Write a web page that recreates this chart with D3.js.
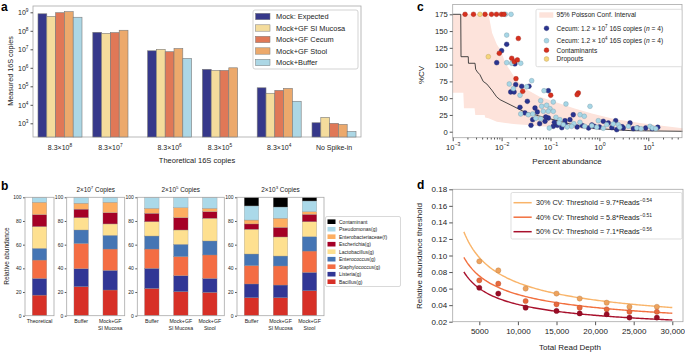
<!doctype html>
<html lang="en">
<head>
<meta charset="utf-8">
<title>16S spike-in figure</title>
<style>
  body { margin: 0; background: #fff; }
  svg { display: block; font-family: "Liberation Sans", Arial, sans-serif; }
  .frame { fill: none; stroke: #a8a8a8; stroke-width: 0.8; }
  .tick line { stroke: #555; }
  .tick text { fill: #222; }
  .domain { display: none; }
</style>
</head>
<body>
<div id="fig"></div>
<script src="https://cdn.jsdelivr.net/npm/d3@7"></script>
<script>

//------------------ panel a data (measured 16S copies)
var aSeries = ["Mock: Expected", "Mock+GF SI Mucosa", "Mock+GF Cecum", "Mock+GF Stool", "Mock+Buffer"];
var aTickLabels = ["8.3×10^{8}", "8.3×10^{7}", "8.3×10^{6}", "8.3×10^{5}", "8.3×10^{4}", "No Spike-in"];
var aExpected = [8.3e8, 8.3e7, 8.3e6, 8.3e5, 8.3e4, 1.07e3];
var aSIMucosa = [6.0e8, 7.3e7, 1.0e7, 7.2e5, 4.2e4, 2.1e3];
var aCecum    = [9.5e8, 8.0e7, 7.4e6, 7.2e5, 6.0e4, 1.0e3];
var aStool    = [1.08e9, 1.07e8, 1.1e7, 1.0e6, 7.7e4, 8.7e2];
var aBuffer   = [5.4e8, null, 3.2e6, null, 1.55e4, 3.6e2];
var aColors = ["#36388a", "#f4dc9c", "#e07857", "#eca96c", "#acd7e5"];

//------------------ panel b data (relative abundance, %)
var bSamples = ["Theoretical", "Buffer", "Mock+GF\nSI Mucosa", "Buffer", "Mock+GF\nSI Mucosa", "Mock+GF\nStool", "Buffer", "Mock+GF\nSI Mucosa", "Mock+GF\nStool"];
var bSubplot = [0, 1, 1, 2, 2, 2, 3, 3, 3];
var bTitles = ["", "2×10^{7} Copies", "2×10^{5} Copies", "2×10^{3} Copies"];
var bTaxa = ["Bacillus(g)", "Listeria(g)", "Staphylococcus(g)", "Enterococcus(g)", "Lactobacillus(g)", "Escherichia(g)", "Enterobacteriaceae(f)", "Pseudomonas(g)", "Contaminant"];
var bBacillus      = [17.4, 24.5, 21.7, 23.0, 20.3, 19.7, 15.2, 15.2, 21.1];
var bListeria      = [14.1, 15.2, 16.6, 17.0, 13.5, 11.8, 11.6, 10.7, 15.5];
var bStaph         = [15.5, 21.3, 18.0, 16.3, 16.1, 19.8, 15.5, 16.1, 18.0];
var bEnterococcus  = [9.9, 11.4, 11.6, 11.0, 10.4, 11.8, 9.8, 8.4, 12.2];
var bLacto         = [18.4, 10.4, 9.6, 12.1, 12.1, 19.2, 20.9, 16.1, 12.6];
var bEscherichia   = [10.1, 7.2, 9.5, 7.1, 10.4, 5.6, 4.5, 8.1, 6.2];
var bEnterobact    = [10.4, 5.0, 8.8, 4.2, 8.5, 2.8, 3.3, 7.7, 2.3];
var bPseudomonas   = [4.2, 5.0, 4.2, 9.3, 8.7, 9.3, 11.9, 9.5, 9.0];
var bContaminant   = [0, 0, 0, 0, 0, 0, 7.3, 8.2, 3.1];
var bColors = ["#d73027", "#313695", "#f46d43", "#4575b4", "#fee090", "#a50026", "#fdae61", "#abd9e9", "#000000"];

//------------------ panel c data (%CV vs percent abundance)
var cHighX = [0.0127, 0.010, 0.00794, 0.0187, 0.0194, 0.0258, 0.0363, 0.01535, 0.018, 0.0902, 0.0336, 0.0238, 0.0482, 0.0537, 0.0432, 0.0902, 0.198, 0.0773, 0.0399, 0.114, 0.138, 0.292, 0.25, 1.2, 1.52, 0.787, 2.15, 4.23, 3.08, 4.93, 8.85, 15.6, 2.26, 0.06, 0.17, 0.35, 0.45, 0.6, 1.0, 1.8, 2.9, 6.0, 12.0, 0.08, 0.12, 0.03, 0.2, 0.7];
var cHighY = [130.3, 120.8, 102.9, 101, 70.1, 67.7, 67.7, 59.2, 59.2, 61.1, 45.3, 36.4, 35.3, 29.4, 17.9, 20.4, 16.4, 15.5, 9.5, 8.0, 9.5, 25.3, 17.9, 15.5, 13, 8, 16.4, 13, 5.5, 4.5, 5.5, 6.6, 3, 12, 6, 7, 9, 5.5, 7, 6, 7.5, 5.5, 4.5, 22, 14, 28, 11, 10];
var cLowX = [0.012, 0.0156, 0.0127, 0.0127, 0.0161, 0.0246, 0.0412, 0.01435, 0.0174, 0.0238, 0.0736, 0.063, 0.114, 0.207, 0.066, 0.0835, 0.0977, 0.0246, 0.0352, 0.0432, 0.0713, 0.0902, 0.114, 0.063, 0.129, 0.156, 0.0944, 0.183, 0.642, 0.401, 0.491, 0.95, 1.41, 0.88, 1.92, 2.44, 3.9, 5.8, 7.1, 10.8, 12.1, 14.2, 2.6, 0.0326, 0.3, 0.5, 0.27, 0.4, 1.2, 0.7, 0.05, 0.15, 0.22];
var cLowY = [175, 175, 144, 102.9, 102, 102, 76, 71.1, 64.1, 54.3, 61.1, 46.2, 44.3, 41.3, 37.9, 39.4, 34.3, 26.4, 25.3, 26.4, 30.4, 30.4, 30.4, 19.4, 21.5, 17.9, 5.5, 10.4, 37.8, 25.3, 23, 16.4, 10.4, 6.6, 11.5, 10.4, 8, 5.5, 4.5, 8, 5.5, 4.5, 6.6, 67, 12, 8, 8, 14, 5, 9, 20, 13, 7];
var cContX = [0.00179, 0.00266, 0.00458, 0.00621, 0.00786, 0.00995, 0.0112, 0.022, 0.00897, 0.0161, 0.0182, 0.021, 0.0197, 0.027, 0.101, 0.371, 0.35];
var cContY = [175, 175, 175, 175, 175, 175, 175, 139, 116.9, 109.4, 104.4, 107, 79, 60.2, 54.3, 57.7, 55.2];
var cDropX = [0.00361, 0.00535];
var cDropY = [175, 111.8];
var cBandX  = [0.001, 0.00165, 0.0017, 0.0028, 0.0029, 0.0045, 0.0046, 0.0054, 0.0064, 0.008, 0.0095, 0.012, 0.0157, 0.02, 0.034, 0.06, 0.155, 0.3, 0.7, 2, 7.3, 50];
var cBandLo = [58, 58, 35, 35, 25, 25, 21, 20, 18, 15, 14, 13, 12, 11, 10, 8, 6.5, 5, 3.5, 2.2, 1.2, 0.5];
var cBandHi = [175, 175, 175, 175, 175, 175, 175, 175, 147, 130, 122, 102, 89, 77, 62, 52, 42, 35, 27, 19, 12.5, 5];
var cLineX = [0.001, 0.00146, 0.00148, 0.00208, 0.0021, 0.00286, 0.00295, 0.0032, 0.0036, 0.0042, 0.005, 0.0063, 0.0079, 0.0093, 0.0149, 0.0278, 0.061, 0.156, 0.25, 0.508, 0.95, 4.57, 50];
var cLineY = [175, 175, 111.8, 111.8, 102, 102, 93, 89, 85, 75, 71, 62, 52, 47.7, 40.3, 30.4, 23, 15.5, 11.5, 6.6, 4.5, 1.5, 0.6];

//------------------ panel d data (threshold vs read depth)
var dDepth = [5000, 7460, 11000, 15000, 18000, 21500, 24450, 28000];
var d30 = [0.093, 0.082, 0.060, 0.054, 0.048, 0.043, 0.038, 0.038];
var d40 = [0.070, 0.066, 0.045, 0.041, 0.037, 0.035, 0.032, 0.032];
var d50 = [0.061, 0.054, 0.037, 0.033, 0.030, 0.029, 0.025, 0.025];
var dCoef = [9.7, 5.8, 7.1];
var dExpo = [-0.54, -0.51, -0.56];
var dLabels = ["30% CV: Threshold = 9.7*Reads^{−0.54}", "40% CV: Threshold = 5.8*Reads^{−0.51}", "50% CV: Threshold = 7.1*Reads^{−0.56}"];
var dLineColors = ["#f9b469", "#f2703f", "#a8102c"];
var dDotColors = ["#eea35e", "#e8693d", "#9a0c26"];
var dXTicks = [5000, 10000, 15000, 20000, 25000, 30000];
var dXTickLabels = ["5000", "10,000", "15,000", "20,000", "25,000", "30,000"];

//------------------ helpers
var W = 685, H = 353;
var svg = d3.select("#fig").append("svg").attr("width", W).attr("height", H);

// text with ^{superscript} and ~{italic}
function rich(sel, str, fs) {
  sel.text(null);
  var toks = str.split(/(\^\{[^}]*\}|~\{[^}]*\})/).filter(function(t) { return t.length; });
  var raised = false;
  toks.forEach(function(t) {
    if (t.indexOf("^{") === 0) {
      sel.append("tspan").attr("dy", -fs * 0.42).attr("font-size", fs * 0.68).text(t.slice(2, -1));
      raised = true;
    } else {
      var ts = sel.append("tspan");
      if (raised) { ts.attr("dy", fs * 0.42); raised = false; }
      if (t.indexOf("~{") === 0) ts.attr("font-style", "italic").text(t.slice(2, -1));
      else ts.text(t);
    }
  });
}

function panelLabel(ch, x, y) {
  svg.append("text").attr("x", x).attr("y", y).attr("font-size", 12).attr("font-weight", "bold")
    .attr("font-family", "Arial, 'Liberation Sans', sans-serif").attr("fill", "#000").text(ch);
}

//------------------ panel a
var aL = 33, aR = 361, aT = 6, aB = 137;
var ya = d3.scaleLog().domain([1e3, 1e9]).range([123.3, 12.3]);
var xg = d3.scaleLinear().domain([0, 1]).range([38, 92.8]);
var xs = d3.scaleBand().domain(d3.range(aSeries.length)).range([0, 44]);
var aVals = [aExpected, aSIMucosa, aCecum, aStool, aBuffer];

var ga = svg.append("g");
ga.append("rect").attr("class", "frame").attr("x", aL).attr("y", aT).attr("width", aR - aL).attr("height", aB - aT);

aTickLabels.forEach(function(lab, i) {
  var present = aVals.map(function(s) { return s[i]; });
  var nPresent = 0;
  present.forEach(function(v, j) {
    if (v == null) return;
    nPresent++;
    ga.append("rect")
      .attr("x", xg(i) + xs(j)).attr("y", ya(v))
      .attr("width", xs.bandwidth()).attr("height", aB - ya(v))
      .attr("fill", aColors[j]).attr("stroke", "#7a7a7a").attr("stroke-width", 0.6);
  });
  var t = ga.append("text").attr("x", xg(i) + nPresent * xs.bandwidth() / 2).attr("y", 150)
    .attr("text-anchor", "middle").attr("font-size", 7).attr("fill", "#222");
  rich(t, lab, 7);
});

ga.append("g").attr("transform", "translate(" + aL + ",0)")
  .call(d3.axisLeft(ya).tickValues([1e3, 1e4, 1e5, 1e6, 1e7, 1e8, 1e9]).tickSize(2.5).tickPadding(2))
  .call(function(g) {
    g.selectAll(".tick text").attr("font-size", 7).each(function(d) {
      rich(d3.select(this), "10^{" + Math.round(Math.log10(d)) + "}", 7);
    });
  });
ga.append("text").attr("transform", "translate(13,71) rotate(-90)").attr("text-anchor", "middle")
  .attr("font-size", 7.2).attr("fill", "#222").text("Measured 16S copies");
ga.append("text").attr("x", (aL + aR) / 2).attr("y", 163).attr("text-anchor", "middle")
  .attr("font-size", 7.5).attr("fill", "#222").text("Theoretical 16S copies");

var la = ga.append("g");
la.append("rect").attr("x", 253).attr("y", 10).attr("width", 105).attr("height", 59).attr("rx", 2)
  .attr("fill", "#fff").attr("stroke", "#c8c8c8").attr("stroke-width", 0.8);
aSeries.forEach(function(s, j) {
  var yy = 16.5 + j * 11.5;
  la.append("rect").attr("x", 255.5).attr("y", yy - 3.2).attr("width", 14.5).attr("height", 6.4)
    .attr("fill", aColors[j]).attr("stroke", "#7a7a7a").attr("stroke-width", 0.5);
  la.append("text").attr("x", 276).attr("y", yy + 2.6).attr("font-size", 7.4).attr("fill", "#222").text(s);
});
panelLabel("a", 1, 11);

//------------------ panel b
var bT = 197.3, bB = 315.7;
var yb = d3.scaleLinear().domain([0, 100]).range([bB, bT]);
var bBoxes = [[25, 54], [66.7, 124.7], [137.3, 224.3], [237, 324]];
var bCounts = [1, 2, 3, 3];
var bSeriesVals = [bBacillus, bListeria, bStaph, bEnterococcus, bLacto, bEscherichia, bEnterobact, bPseudomonas, bContaminant];
var gb = svg.append("g");

bBoxes.forEach(function(bx, k) {
  var xb = d3.scaleLinear().domain([-0.5, bCounts[k] - 0.5]).range(bx);
  gb.append("g").attr("transform", "translate(" + bx[0] + ",0)")
    .call(d3.axisLeft(yb).tickValues([0, 20, 40, 60, 80, 100]).tickSize(2).tickPadding(1.5))
    .call(function(g) { g.selectAll(".tick text").attr("font-size", 5); });
  if (bTitles[k]) {
    var tt = gb.append("text").attr("x", (bx[0] + bx[1]) / 2).attr("y", 192).attr("text-anchor", "middle")
      .attr("font-size", 6.4).attr("fill", "#222");
    rich(tt, bTitles[k], 6.4);
  }
  var idx = 0;
  bSamples.forEach(function(name, s) {
    if (bSubplot[s] !== k) return;
    var cx = xb(idx++);
    var w = xb(0.25) - xb(-0.25);
    var base = 0;
    bSeriesVals.forEach(function(arr, t) {
      var v = arr[s];
      if (v > 0) {
        gb.append("rect").attr("x", cx - w / 2).attr("y", yb(base + v)).attr("width", w)
          .attr("height", yb(base) - yb(base + v)).attr("fill", bColors[t])
          .attr("stroke", "#8a8a8a").attr("stroke-width", 0.3);
      }
      base += v;
    });
    var lines = name.split("\n");
    var lt = gb.append("text").attr("text-anchor", "middle").attr("font-size", 5.2).attr("fill", "#222");
    lines.forEach(function(l, li) {
      lt.append("tspan").attr("x", cx).attr("y", 322.5 + li * 7.3).text(l);
    });
  });
  gb.append("rect").attr("class", "frame").attr("x", bx[0]).attr("y", bT).attr("width", bx[1] - bx[0]).attr("height", bB - bT);
});
gb.append("text").attr("transform", "translate(9,256) rotate(-90)").attr("text-anchor", "middle")
  .attr("font-size", 6.5).attr("fill", "#222").text("Relative abundance");

var lb = gb.append("g");
lb.append("rect").attr("x", 325.5).attr("y", 216.5).attr("width", 75).attr("height", 70).attr("rx", 1.5)
  .attr("fill", "#fff").attr("stroke", "#c8c8c8").attr("stroke-width", 0.7);
bTaxa.slice().reverse().forEach(function(name, i) {
  var t = bTaxa.length - 1 - i;
  var yy = 221.7 + i * 7.5;
  lb.append("rect").attr("x", 327.5).attr("y", yy - 2.3).attr("width", 8).attr("height", 4.6).attr("fill", bColors[t]);
  lb.append("text").attr("x", 339).attr("y", yy + 1.8).attr("font-size", 5).attr("fill", "#222").text(name);
});
panelLabel("b", 1, 190);

//------------------ panel c
var cL = 452.7, cR = 682, cT = 4.5, cB = 137.7;
var xc = d3.scaleLog().domain([1e-3, Math.pow(10, 1.689)]).range([cL, cR]);
var yc = d3.scaleLinear().domain([0, 175]).range([131.7, 14.3]);
var gc = svg.append("g");

var band = cBandX.map(function(x, i) { return [x, cBandLo[i], cBandHi[i]]; });
gc.append("path").datum(band)
  .attr("d", d3.area().x(function(d) { return xc(d[0]); }).y0(function(d) { return yc(d[1]); }).y1(function(d) { return yc(d[2]); }))
  .attr("fill", "#fde3db");
gc.append("path").datum(cLineX.map(function(x, i) { return [x, cLineY[i]]; }))
  .attr("d", d3.line().x(function(d) { return xc(d[0]); }).y(function(d) { return yc(d[1]); }))
  .attr("fill", "none").attr("stroke", "#333").attr("stroke-width", 0.9);

function dots(xsArr, ysArr, fill) {
  gc.append("g").selectAll("circle").data(xsArr).enter().append("circle")
    .attr("cx", function(d) { return xc(d); })
    .attr("cy", function(d, i) { return yc(ysArr[i]); })
    .attr("r", 2.4).attr("fill", fill)
    .attr("stroke", d3.color(fill).darker(0.9)).attr("stroke-width", 0.4);
}
dots(cHighX, cHighY, "#2a3490");
dots(cLowX, cLowY, "#a6d6e6");
dots(cContX, cContY, "#d7301f");
dots(cDropX, cDropY, "#f6d57a");

gc.append("rect").attr("class", "frame").attr("x", cL).attr("y", cT).attr("width", cR - cL).attr("height", cB - cT);
gc.append("g").attr("transform", "translate(" + cL + ",0)")
  .call(d3.axisLeft(yc).tickValues(d3.range(0, 176, 25)).tickSize(3).tickPadding(2))
  .call(function(g) { g.selectAll(".tick text").attr("font-size", 7.6); });
var minor = xc.ticks().filter(function(v) {
  var e = Math.log10(v); return Math.abs(e - Math.round(e)) > 1e-6;
});
gc.append("g").attr("transform", "translate(0," + cB + ")")
  .call(d3.axisBottom(xc).tickValues(minor).tickSize(1.8).tickFormat(""));
gc.append("g").attr("transform", "translate(0," + cB + ")")
  .call(d3.axisBottom(xc).tickValues([1e-3, 1e-2, 1e-1, 1, 10]).tickSize(3.5).tickPadding(3))
  .call(function(g) {
    g.selectAll(".tick text").attr("font-size", 7.6).each(function(d) {
      var e = Math.round(Math.log10(d));
      rich(d3.select(this), "10^{" + (e < 0 ? "−" + (-e) : e) + "}", 7.6);
    });
  });
gc.append("text").attr("transform", "translate(424,75) rotate(-90)").attr("text-anchor", "middle")
  .attr("font-size", 8).attr("fill", "#222").text("%CV");
gc.append("text").attr("x", 567).attr("y", 164).attr("text-anchor", "middle")
  .attr("font-size", 8).attr("fill", "#222").text("Percent abundance");

var lc = gc.append("g");
lc.append("rect").attr("x", 536).attr("y", 9.3).attr("width", 146).attr("height", 57.4).attr("rx", 1.5)
  .attr("fill", "#fff").attr("fill-opacity", 0.85).attr("stroke", "#d0d0d0").attr("stroke-width", 0.7);
lc.append("rect").attr("x", 539.3).attr("y", 12.3).attr("width", 14).attr("height", 5.4).attr("fill", "#fde3db");
var cLeg = [["95% Poisson Conf. Interval", null, 15], ["Cecum: 1.2 × 10^{7} 16S copies (~{n} = 4)", "#2a3490", 28.3],
            ["Cecum: 1.2 × 10^{4} 16S copies (~{n} = 4)", "#a6d6e6", 40.7], ["Contaminants", "#d7301f", 50.2], ["Dropouts", "#f6d57a", 59]];
cLeg.forEach(function(e) {
  if (e[1]) lc.append("circle").attr("cx", 546.5).attr("cy", e[2]).attr("r", 2.4).attr("fill", e[1])
    .attr("stroke", d3.color(e[1]).darker(0.9)).attr("stroke-width", 0.4);
  var t = lc.append("text").attr("x", 556.5).attr("y", e[2] + 2.3).attr("font-size", 6.6).attr("fill", "#222");
  rich(t, e[0], 6.6);
});
panelLabel("c", 417, 11);

//------------------ panel d
var dL = 452.7, dR = 683, dT = 189.3, dB = 321.7;
var xd = d3.scaleLinear().domain([5000, 30000]).range([479.3, 672.3]);
var yd = d3.scaleLinear().domain([0.02, 0.18]).range([dB, dT]);
var gd = svg.append("g");
gd.append("rect").attr("class", "frame").attr("x", dL).attr("y", dT).attr("width", dR - dL).attr("height", dB - dT);

var curveX = d3.range(3000, 30001, 200);
var dPts = [d30, d40, d50];
dCoef.forEach(function(a, k) {
  gd.append("path").datum(curveX)
    .attr("d", d3.line().x(function(x) { return xd(x); }).y(function(x) { return yd(a * Math.pow(x, dExpo[k])); }))
    .attr("fill", "none").attr("stroke", dLineColors[k]).attr("stroke-width", 1.4);
});
dPts.forEach(function(arr, k) {
  gd.append("g").selectAll("circle").data(arr).enter().append("circle")
    .attr("cx", function(d, i) { return xd(dDepth[i]); }).attr("cy", function(d) { return yd(d); })
    .attr("r", 2.6).attr("fill", dDotColors[k])
    .attr("stroke", d3.color(dDotColors[k]).darker(0.7)).attr("stroke-width", 0.4);
});

gd.append("g").attr("transform", "translate(" + dL + ",0)")
  .call(d3.axisLeft(yd).tickValues(d3.range(0.02, 0.181, 0.02)).tickFormat(d3.format(".2f")).tickSize(3.5).tickPadding(2))
  .call(function(g) { g.selectAll(".tick text").attr("font-size", 8); });
gd.append("g").attr("transform", "translate(0," + dB + ")")
  .call(d3.axisBottom(xd).tickValues(dXTicks).tickFormat(function(d, i) { return dXTickLabels[i]; }).tickSize(3.5).tickPadding(3))
  .call(function(g) { g.selectAll(".tick text").attr("font-size", 8); });
gd.append("text").attr("transform", "translate(422,256) rotate(-90)").attr("text-anchor", "middle")
  .attr("font-size", 8).attr("fill", "#222").text("Relative abundance threshold");
gd.append("text").attr("x", 570).attr("y", 350).attr("text-anchor", "middle")
  .attr("font-size", 8).attr("fill", "#222").text("Total Read Depth");

var ld = gd.append("g");
ld.append("rect").attr("x", 511).attr("y", 192.5).attr("width", 171).attr("height", 46.5).attr("rx", 1.5)
  .attr("fill", "#fff").attr("stroke", "#d0d0d0").attr("stroke-width", 0.7);
dLabels.forEach(function(s, k) {
  var yy = 202.7 + k * 14.5;
  ld.append("line").attr("x1", 513.5).attr("x2", 531.7).attr("y1", yy).attr("y2", yy)
    .attr("stroke", dLineColors[k]).attr("stroke-width", 1.5);
  var t = ld.append("text").attr("x", 536).attr("y", yy + 2.6).attr("font-size", 7.2).attr("fill", "#222");
  rich(t, s, 7.2);
});
panelLabel("d", 417, 189);

</script>
</body>
</html>
